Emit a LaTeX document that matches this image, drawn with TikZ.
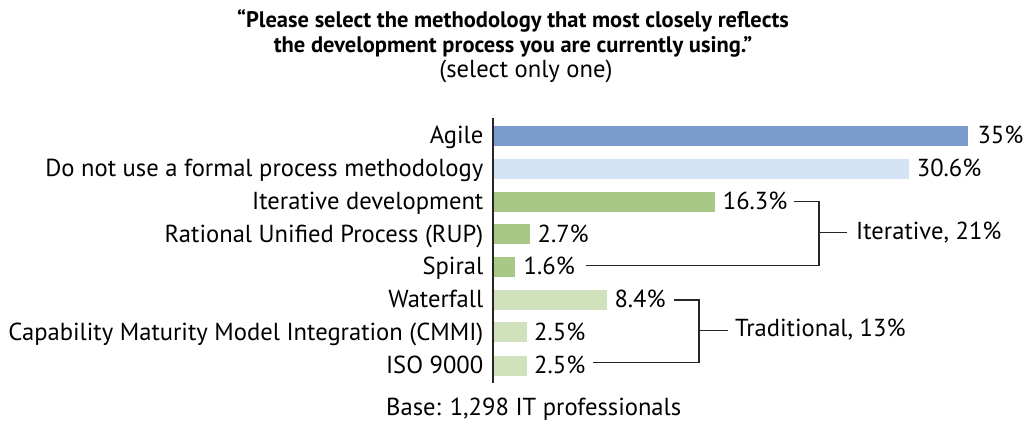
\documentclass[tikz,border=0pt]{standalone}
\usepackage{fontspec}
\setmainfont{PT Sans}
\definecolor{agile}{HTML}{7A9ACB}
\definecolor{noform}{HTML}{D3E2F4}
\definecolor{iter}{HTML}{A8C985}
\definecolor{trad}{HTML}{D0E2BC}
\tikzset{
  lbl/.style={anchor=base east,inner sep=0pt,font=\fontsize{24.6}{28}\selectfont},
  pct/.style={anchor=base west,inner sep=0pt,font=\fontsize{24.6}{28}\selectfont},
  grp/.style={anchor=base west,inner sep=0pt,font=\fontsize{24.6}{28}\selectfont},
  brk/.style={draw=black!85,line width=1.2pt},
}
\begin{document}
\begin{tikzpicture}[x=1pt,y=-1pt]
\useasboundingbox (0,0) rectangle (1026,430);
% title
\node[inner sep=0pt,anchor=base,font=\fontsize{22.5}{26}\selectfont\bfseries] (t1) at (513,28) {“Please select the methodology that most closely reflects};
\node[inner sep=0pt,anchor=base,font=\fontsize{22.5}{26}\selectfont\bfseries] (t2) at (513,53) {the development process you are currently using.”};
\node[inner sep=0pt,anchor=base,font=\fontsize{24.6}{28}\selectfont] (t3) at (526,78) {(select only one)};
% axis
\coordinate (axtop) at (492.9,118);
\coordinate (axbot) at (492.9,383);
\draw[black!85,line width=1.2pt] (axtop) -- (axbot);
% bars
\foreach \name/\cy/\xe/\col/\px/\ptxt/\lab in {
  a/136/968.3/agile/977.3/35\%/Agile,
  b/169/909/noform/916.7/30.6\%/Do not use a formal process methodology,
  c/201.7/715/iter/722.7/16.3\%/Iterative development,
  d/234.3/529.7/iter/537.4/2.7\%/Rational Unified Process (RUP),
  e/267/514.8/iter/523.5/1.6\%/Spiral,
  f/299.7/607/trad/614.3/8.4\%/Waterfall,
  g/332.5/526.7/trad/534/2.5\%/Capability Maturity Model Integration (CMMI),
  h/365.8/526.7/trad/534/2.5\%/ISO 9000}{
  \fill[\col] (493.8,\cy-10) rectangle (\xe,\cy+10);
  \node[pct] (p\name) at (\px,\cy+8) {\ptxt};
  \node[lbl] (l\name) at (483.5,\cy+8) {\lab};
}
% iterative bracket
\coordinate (i1) at (794.3,201.7);
\coordinate (i2) at (819,201.7);
\coordinate (i3) at (819,265.7);
\coordinate (i4) at (586,265.7);
\coordinate (im) at (819,232.7);
\coordinate (ie) at (846.7,232.7);
\draw[brk] (i1) -- (i2) -- (i3) -- (i4);
\draw[brk] (im) -- (ie);
\node[grp] (giter) at (856,239.5) {Iterative, 21\%};
% traditional bracket
\coordinate (r1) at (674,300);
\coordinate (r2) at (699,300);
\coordinate (r3) at (699,362.7);
\coordinate (r4) at (593.3,362.7);
\coordinate (rm) at (699,330.7);
\coordinate (re) at (728.3,330.7);
\draw[brk] (r1) -- (r2) -- (r3) -- (r4);
\draw[brk] (rm) -- (re);
\node[grp] (gtrad) at (735,336.5) {Traditional, 13\%};
% base
\node[inner sep=0pt,anchor=base west,font=\fontsize{24.6}{28}\selectfont] (base) at (386,416) {Base: 1,298 IT professionals};
\end{tikzpicture}
\end{document}
